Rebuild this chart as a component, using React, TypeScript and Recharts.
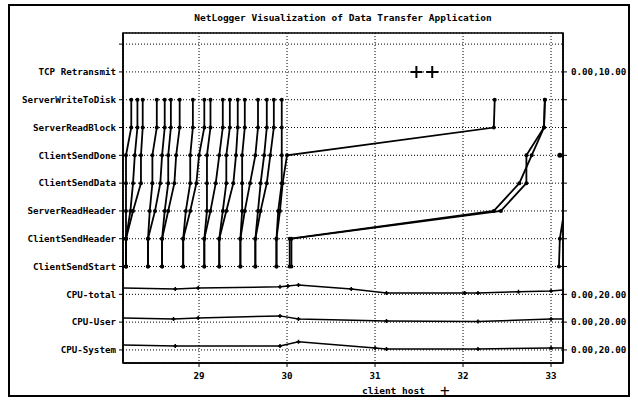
import React from "react"
import {
  ComposedChart,
  Line,
  Scatter,
  XAxis,
  YAxis,
  CartesianGrid,
  ReferenceArea,
} from "recharts"

// row labels, bottom to top (row index = y value)
const rowLabels = [
  "CPU-System",
  "CPU-User",
  "CPU-total",
  "ClientSendStart",
  "ClientSendHeader",
  "ServerReadHeader",
  "ClientSendData",
  "ClientSendDone",
  "ServerReadBlock",
  "ServerWriteToDisk",
  "TCP Retransmit",
]
const rightLabels: Record<number, string> = {
  0: "0.00,20.00",
  1: "0.00,20.00",
  2: "0.00,20.00",
  10: "0.00,10.00",
}
const xTicks = [29, 30, 31, 32, 33]

// lifeline event rows: ClientSendStart .. ServerWriteToDisk
const eventRows = [3, 4, 5, 6, 7, 8, 9]

// event times (client host clock) for each lifeline, one per event row
const lifelines: number[][] = [
  [28.17, 28.17, 28.17, 28.17, 28.17, 28.23, 28.23],
  [28.17, 28.17, 28.22, 28.25, 28.27, 28.3, 28.3],
  [28.17, 28.17, 28.25, 28.34, 28.34, 28.36, 28.36],
  [28.42, 28.42, 28.44, 28.47, 28.47, 28.52, 28.52],
  [28.42, 28.42, 28.5, 28.56, 28.58, 28.61, 28.61],
  [28.58, 28.58, 28.61, 28.65, 28.65, 28.68, 28.68],
  [28.58, 28.58, 28.65, 28.72, 28.74, 28.78, 28.78],
  [28.82, 28.82, 28.85, 28.9, 28.9, 28.93, 28.93],
  [28.82, 28.82, 28.9, 28.97, 29.0, 29.06, 29.06],
  [29.06, 29.06, 29.09, 29.09, 29.09, 29.13, 29.13],
  [29.06, 29.06, 29.13, 29.19, 29.23, 29.27, 29.27],
  [29.23, 29.23, 29.27, 29.31, 29.31, 29.35, 29.35],
  [29.23, 29.23, 29.31, 29.39, 29.42, 29.44, 29.44],
  [29.47, 29.47, 29.49, 29.49, 29.49, 29.52, 29.52],
  [29.47, 29.47, 29.52, 29.58, 29.64, 29.67, 29.67],
  [29.64, 29.64, 29.67, 29.7, 29.74, 29.77, 29.77],
  [29.64, 29.64, 29.7, 29.77, 29.81, 29.85, 29.85],
  [29.88, 29.88, 29.9, 29.94, 29.94, 29.94, 29.94],
  [29.88, 29.88, 29.92, 29.95, 30.0, 32.35, 32.36],
  [30.03, 30.03, 32.35, 32.64, 32.78, 32.92, 32.93],
  [30.05, 30.05, 32.43, 32.72, 32.72, 32.92, 32.93],
  [33.09, 33.1, 33.15],
]
// a lone ClientSendDone event at the right edge
const lateDoneTime = 33.1

const tcpRetransmitTimes = [31.47, 31.65]

// CPU load (0..20 scale), each with its own sample times
const cpuTotalT = [28.14, 28.73, 28.99, 29.92, 30.01, 30.13, 30.73, 31.13, 32.02, 32.17, 32.63, 33.0, 33.16]
const cpuTotalV = [4.6, 3.8, 4.6, 5.4, 6.0, 6.8, 3.8, 1.0, 1.0, 1.0, 1.8, 2.4, 3.2]
const cpuUserT = [28.14, 28.71, 28.99, 29.92, 30.13, 31.13, 32.17, 33.0, 33.16]
const cpuUserV = [3.0, 2.3, 3.0, 4.5, 2.3, 0.9, 0.4, 2.3, 2.3]
const cpuSystemT = [28.14, 28.73, 29.92, 30.13, 31.0, 31.13, 32.17, 33.0, 33.16]
const cpuSystemV = [3.6, 2.9, 2.9, 5.8, 1.4, 0.7, 0.7, 1.4, 1.4]

const X_DOMAIN: [number, number] = [28.136, 33.136]
const Y_DOMAIN: [number, number] = [-0.47, 11.4]
const FONT = "'DejaVu Sans Mono', monospace"
const tickStyle = { fontFamily: FONT, fontWeight: "bold", fontSize: 9.2, fill: "#000" }

const cpuSeries = (t: number[], v: number[], row: number) =>
  t.map((x, i) => ({ x, y: row + v[i] / 20 }))

const CpuDot = (props: any) => {
  const { cx, cy, index, points } = props
  if (index === 0 || (points && index === points.length - 1)) return <g key={index} />
  return (
    <path
      key={index}
      d={`M${cx - 2},${cy}h4M${cx},${cy - 2}v4`}
      stroke="#000"
      strokeWidth={1.5}
    />
  )
}

const PlusShape = (props: any) => {
  const { cx, cy } = props
  return <path d={`M${cx - 6},${cy}h12M${cx},${cy - 6}v12`} stroke="#000" strokeWidth={2} />
}

export default function App() {
  const lifeData = lifelines.map((times) =>
    times.map((x, i) => ({ x, y: eventRows[i] }))
  )
  const cpuTotal = cpuSeries(cpuTotalT, cpuTotalV, 2)
  const cpuUser = cpuSeries(cpuUserT, cpuUserV, 1)
  const cpuSystem = cpuSeries(cpuSystemT, cpuSystemV, 0)
  const tcpData = tcpRetransmitTimes.map((x) => ({ x, y: 10 }))

  return (
    <div
      style={{
        position: "absolute",
        left: 0,
        top: 0,
        width: 638,
        height: 401,
        background: "#fff",
        fontFamily: FONT,
      }}
    >
      <div
        style={{
          position: "absolute",
          left: 8,
          top: 4,
          width: 622,
          height: 393,
          border: "2px solid #000",
          boxSizing: "border-box",
        }}
      />
      <div
        style={{
          position: "absolute",
          left: 123,
          width: 440,
          top: 12,
          textAlign: "center",
          fontSize: 9.5,
          fontWeight: "bold",
        }}
      >
        NetLogger Visualization of Data Transfer Application
      </div>
      <div
        style={{
          position: "absolute",
          left: 362,
          top: 385,
          fontSize: 9.5,
          fontWeight: "bold",
          whiteSpace: "pre",
        }}
      >
        client host
        <span style={{ position: "absolute", left: 78, top: -4, fontSize: 16, fontWeight: "normal" }}>+</span>
      </div>
      <ComposedChart
        width={638}
        height={401}
        margin={{ top: 33, right: 8, bottom: 13, left: 8 }}
        style={{ position: "absolute", left: 0, top: 0 }}
      >
        <CartesianGrid
          yAxisId="left"
          stroke="#000"
          strokeWidth={1}
          strokeDasharray="1 2"
        />
        <XAxis
          dataKey="x"
          type="number"
          domain={X_DOMAIN}
          allowDataOverflow
          ticks={xTicks}
          height={25}
          tickSize={4}
          tickMargin={5}
          tick={tickStyle}
          axisLine={{ stroke: "#000", strokeWidth: 1.5 }}
          tickLine={{ stroke: "#000" }}
        />
        <YAxis
          yAxisId="left"
          type="number"
          domain={Y_DOMAIN}
          allowDataOverflow
          ticks={[0, 1, 2, 3, 4, 5, 6, 7, 8, 9, 10, 11]}
          interval={0}
          width={115}
          tickSize={4}
          tickMargin={3}
          tick={tickStyle}
          tickFormatter={(v: number) => rowLabels[v] ?? ""}
          axisLine={{ stroke: "#000", strokeWidth: 1.5 }}
          tickLine={{ stroke: "#000" }}
        />
        <YAxis
          yAxisId="right"
          orientation="right"
          type="number"
          domain={Y_DOMAIN}
          allowDataOverflow
          ticks={[0, 1, 2, 3, 4, 5, 6, 7, 8, 9, 10]}
          interval={0}
          width={67}
          tickSize={4}
          tickMargin={4}
          tick={{ ...tickStyle, textAnchor: "start" }}
          tickFormatter={(v: number) => rightLabels[v] ?? ""}
          axisLine={{ stroke: "#000", strokeWidth: 1.5 }}
          tickLine={{ stroke: "#000" }}
        />
        <ReferenceArea
          yAxisId="left"
          x1={X_DOMAIN[0]}
          x2={X_DOMAIN[1]}
          y1={Y_DOMAIN[0]}
          y2={Y_DOMAIN[1]}
          fill="none"
          stroke="#000"
          strokeWidth={1.5}
          ifOverflow="visible"
        />
        {lifeData.map((d, i) => (
          <Line
            key={`life-${i}`}
            yAxisId="left"
            data={d}
            dataKey="y"
            type="linear"
            stroke="#000"
            strokeWidth={1.8}
            dot={{ r: 2, fill: "#000", stroke: "#000", strokeWidth: 0 }}
            isAnimationActive={false}
          />
        ))}
        <Line
          yAxisId="left"
          data={[{ x: lateDoneTime, y: 7 }]}
          dataKey="y"
          stroke="#000"
          dot={{ r: 2.5, fill: "#000", stroke: "#000", strokeWidth: 0 }}
          isAnimationActive={false}
        />
        {[cpuTotal, cpuUser, cpuSystem].map((d, i) => (
          <Line
            key={`cpu-${i}`}
            yAxisId="left"
            data={d}
            dataKey="y"
            type="linear"
            stroke="#000"
            strokeWidth={1.5}
            dot={<CpuDot points={d} />}
            isAnimationActive={false}
          />
        ))}
        <Scatter
          yAxisId="right"
          data={tcpData}
          dataKey="y"
          shape={<PlusShape />}
          isAnimationActive={false}
        />
      </ComposedChart>
    </div>
  )
}
